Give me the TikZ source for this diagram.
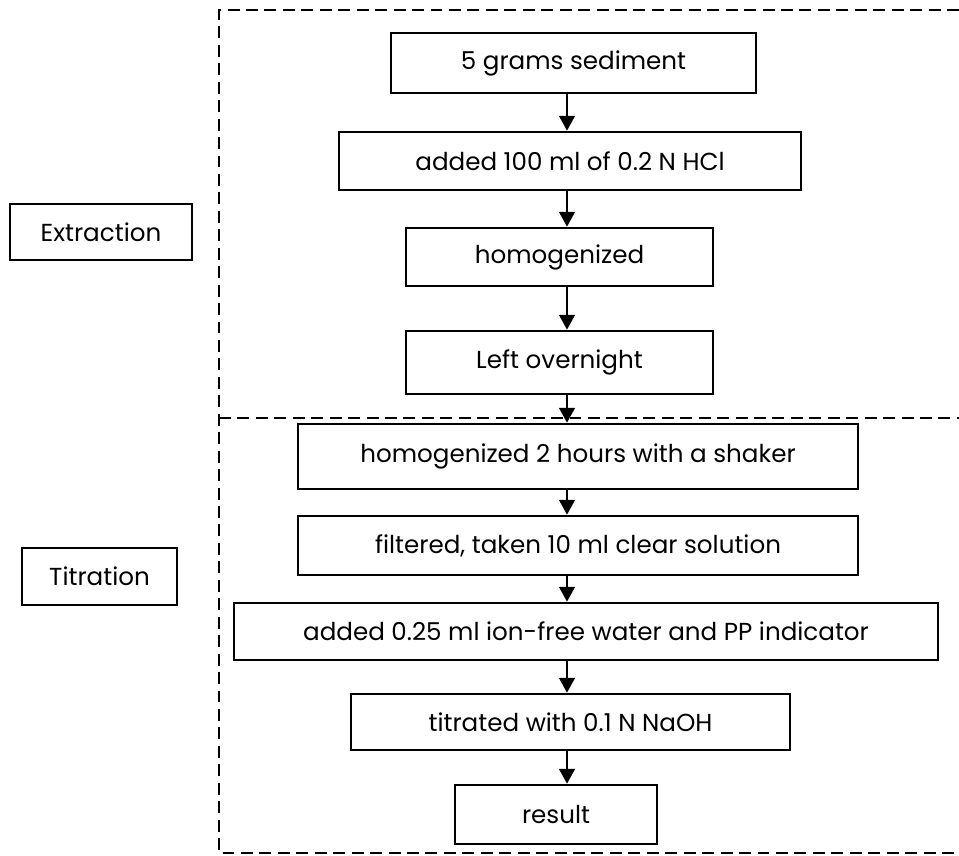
\documentclass[tikz,border=0pt]{standalone}
\usepackage{fontspec}
\setmainfont{Poppins}
\usetikzlibrary{arrows.meta,positioning}

\begin{document}
\begin{tikzpicture}[x=0.02cm,y=-0.02cm,line width=1.5pt,
    box/.style={draw,rectangle,inner sep=0pt,font=\fontsize{14}{16}\selectfont},
    arr/.style={-{Triangle[length=8.5pt,width=9pt]},line width=1.2pt},
    sep/.style={dash pattern=on 6.8pt off 3.7pt,line width=1.4pt}]

        \useasboundingbox (0,0) rectangle (959,855);

        \draw[sep] (959,10) -- (219,10) -- (219,853) -- (959,853);
        \draw[sep] (219,418) -- (959,418);

        \node[box,minimum width=3.64cm,minimum height=1.12cm] (extr) at (101,232) {Extraction};
        \node[box,minimum width=3.10cm,minimum height=1.14cm] (titr) at (99.5,576.5) {Titration};

        \node[box,minimum width=7.30cm,minimum height=1.20cm] (sed) at (573.5,63) {5 grams sediment};
        \node[box,minimum width=9.24cm,minimum height=1.16cm] (hcl) at (570,161) {added 100 ml of 0.2 N HCl};
        \node[box,minimum width=6.14cm,minimum height=1.16cm] (homog) at (559.5,257) {homogenized};
        \node[box,minimum width=6.14cm,minimum height=1.26cm] (night) at (559.5,362.5) {Left overnight};
        \node[box,minimum width=11.20cm,minimum height=1.30cm] (shake) at (578,456.5) {homogenized 2 hours with a shaker};
        \node[box,minimum width=11.20cm,minimum height=1.18cm] (filt) at (578,545.5) {filtered, taken 10 ml clear solution};
        \node[box,minimum width=14.08cm,minimum height=1.14cm] (indic) at (586,631.5) {added 0.25 ml ion-free water and PP indicator};
        \node[box,minimum width=8.78cm,minimum height=1.12cm] (naoh) at (570.5,722) {titrated with 0.1 N NaOH};
        \node[box,minimum width=4.04cm,minimum height=1.18cm] (res) at (556,814.5) {result};

        \coordinate (ax) at (567,0);

        \draw[arr] (sed.south -| ax) -- (hcl.north -| ax);
        \draw[arr] (hcl.south -| ax) -- (homog.north -| ax);
        \draw[arr] (homog.south -| ax) -- (night.north -| ax);
        \draw[arr] (night.south -| ax) -- (shake.north -| ax);
        \draw[arr] (shake.south -| ax) -- (filt.north -| ax);
        \draw[arr] (filt.south -| ax) -- (indic.north -| ax);
        \draw[arr] (indic.south -| ax) -- (naoh.north -| ax);
        \draw[arr] (naoh.south -| ax) -- (res.north -| ax);

      \end{tikzpicture}
\end{document}
